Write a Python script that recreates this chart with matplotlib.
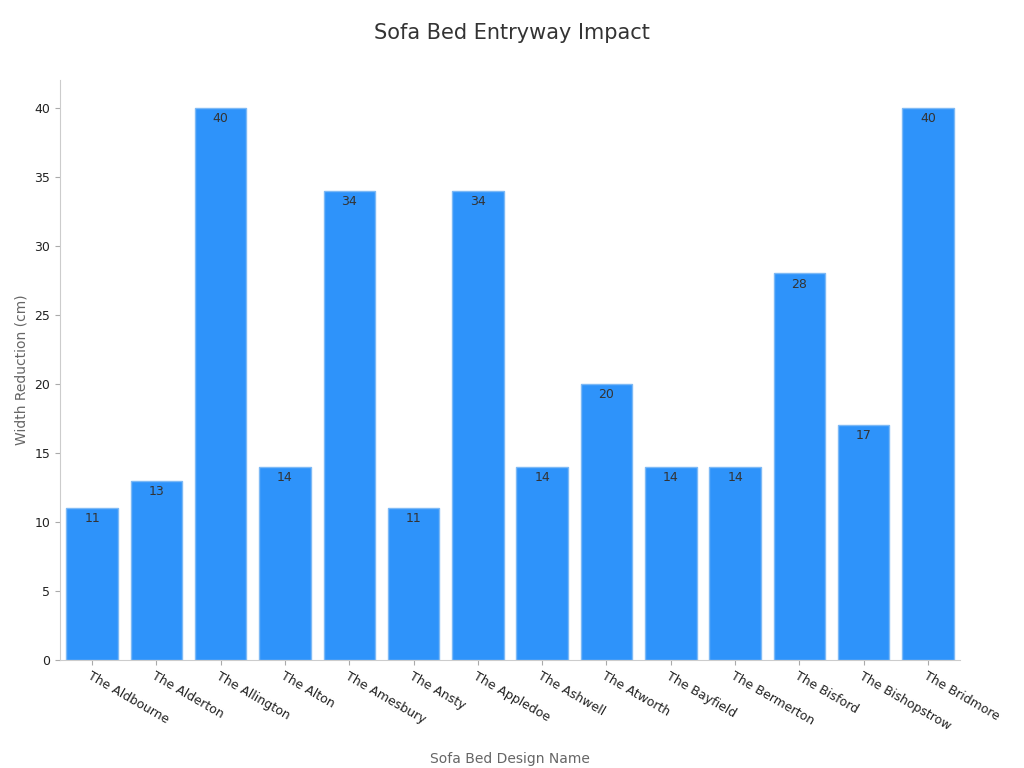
import matplotlib.pyplot as plt

designs = ["The Aldbourne", "The Alderton", "The Allington", "The Alton", "The Amesbury",
           "The Ansty", "The Appledoe", "The Ashwell", "The Atworth", "The Bayfield",
           "The Bermerton", "The Bisford", "The Bishopstrow", "The Bridmore"]
width_reduction = [11, 13, 40, 14, 34, 11, 34, 14, 20, 14, 14, 28, 17, 40]

fig = plt.figure(figsize=(10.24, 7.68), dpi=100)
ax = fig.add_axes([0.0586, 0.1406, 0.879, 0.755])

x = range(len(designs))
bars = ax.bar(x, width_reduction, width=0.8, color="#2E93FA", edgecolor="#7DB9F5", linewidth=1)
for xi, v in zip(x, width_reduction):
    ax.text(xi, v - 0.3, str(v), ha="center", va="top", fontsize=9, color="#333333")

ax.set_xlim(-0.5, len(designs) - 0.5)
ax.set_ylim(0, 42)
ax.set_yticks([0, 5, 10, 15, 20, 25, 30, 35, 40])
ax.set_xticks(list(x))
ax.set_xticklabels(designs, rotation=-30, ha="left", rotation_mode="anchor", fontsize=9, color="#222222")
ax.tick_params(axis="y", labelsize=9, colors="#222222")
ax.tick_params(color="#aaaaaa")
for s in ["top", "right"]:
    ax.spines[s].set_visible(False)
for s in ["left", "bottom"]:
    ax.spines[s].set_color("#cccccc")

ax.set_xlabel("Sofa Bed Design Name", fontsize=10, color="#666666", labelpad=14)
ax.set_ylabel("Width Reduction (cm)", fontsize=10, color="#666666")
fig.suptitle("Sofa Bed Entryway Impact", fontsize=15, color="#333333", y=0.97)

fig.savefig("out.png")
